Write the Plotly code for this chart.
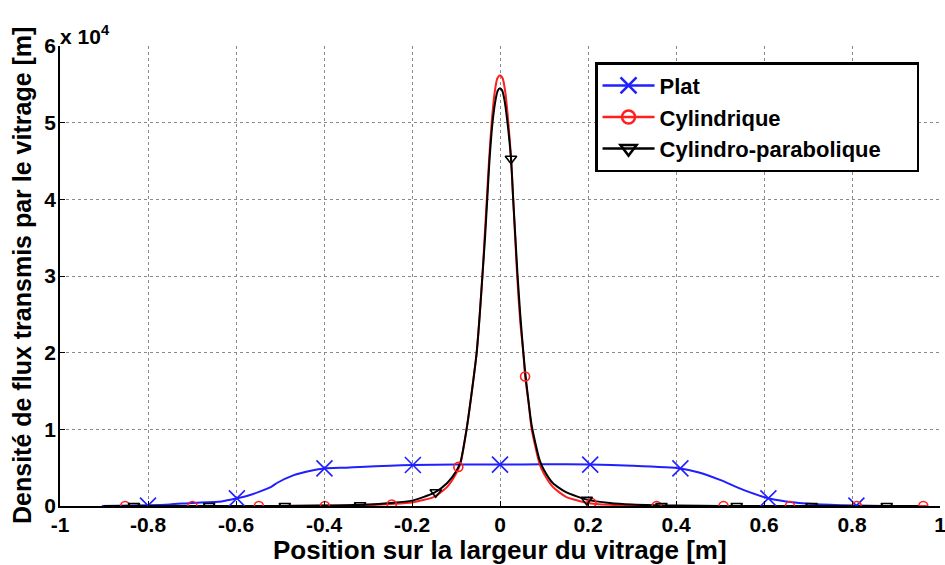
import plotly.graph_objects as go

# ---- data ----
plat_x = [-0.905, -0.8, -0.75, -0.70, -0.633, -0.598, -0.57, -0.545, -0.52, -0.507, -0.47, -0.43,
          -0.399, -0.35, -0.318, -0.25, -0.198, -0.1, 0.0, 0.1, 0.205, 0.3, 0.41, 0.45, 0.50,
          0.553, 0.61, 0.65, 0.68, 0.75, 0.81, 0.875]
plat_y = [0, 100, 200, 400, 600, 1000, 1400, 1900, 2500, 3000, 4000, 4600,
          4900, 5000, 5100, 5250, 5350, 5400, 5400, 5450, 5400, 5250, 4900, 4400, 3400,
          2100, 1000, 600, 400, 150, 50, 0]
plat_mx = [-0.8, -0.598, -0.399, -0.198, 0.0, 0.205, 0.41, 0.61, 0.81]
plat_my = [50, 1000, 4900, 5350, 5400, 5400, 4900, 1000, 50]

cyl_x = [-0.90, -0.5, -0.35, -0.30, -0.25, -0.20, -0.15, -0.12, -0.10, -0.09, -0.076, -0.065,
         -0.053, -0.046, -0.040, -0.035, -0.030, -0.025, -0.019, -0.012, -0.006, 0.0,
         0.006, 0.012, 0.019, 0.025, 0.030, 0.039, 0.046, 0.053, 0.057, 0.065, 0.072, 0.09,
         0.10, 0.12, 0.15, 0.20, 0.25, 0.30, 0.40, 0.97]
cyl_y = [0, 0, 50, 100, 250, 450, 1200, 2500, 4200, 5500, 10000, 14500,
         20000, 25000, 30000, 35000, 40000, 45000, 50000, 54000, 55800, 56200,
         55800, 54000, 50000, 45500, 40000, 30000, 24000, 20000, 16900, 13500, 10000, 5500,
         4200, 2500, 1200, 400, 150, 50, 0, 0]
cyl_mx = [-0.852, -0.699, -0.548, -0.398, -0.246, -0.0947, 0.057, 0.208, 0.356, 0.508,
          0.659, 0.811, 0.962]
cyl_my = [0, 0, 0, 0, 200, 5100, 16900, 400, 0, 0, 0, 0, 0]

para_x = [-0.90, -0.5, -0.40, -0.35, -0.30, -0.25, -0.20, -0.15, -0.12, -0.10, -0.09, -0.076,
          -0.065, -0.053, -0.046, -0.040, -0.034, -0.029, -0.024, -0.017, -0.010, -0.005, 0.0,
          0.005, 0.010, 0.017, 0.025, 0.030, 0.035, 0.040, 0.046, 0.053, 0.060, 0.072, 0.09,
          0.10, 0.12, 0.15, 0.20, 0.25, 0.30, 0.35, 0.40, 0.50, 0.95]
para_y = [0, 0, 50, 100, 200, 400, 700, 1700, 3000, 4500, 5700, 10000,
          14500, 20000, 25000, 30000, 35000, 40000, 45000, 50000, 53000, 54200, 54500,
          54200, 53000, 50000, 45300, 40000, 35000, 30000, 25000, 20000, 16000, 10500, 6000,
          4700, 3000, 1800, 800, 400, 200, 100, 50, 0, 0]
para_mx = [-0.832, -0.661, -0.489, -0.318, -0.146, 0.025, 0.197, 0.367, 0.538, 0.708, 0.879]
para_my = [0, 0, 0, 100, 1800, 45300, 800, 0, 0, 0, 0]

x_ticks = [-1, -0.8, -0.6, -0.4, -0.2, 0, 0.2, 0.4, 0.6, 0.8, 1]
x_tick_labels = ["-1", "-0.8", "-0.6", "-0.4", "-0.2", "0", "0.2", "0.4", "0.6", "0.8", "1"]
y_ticks = [0, 10000, 20000, 30000, 40000, 50000, 60000]
y_tick_labels = ["0", "1", "2", "3", "4", "5", "6"]

names = ["Plat", "Cylindrique", "Cylindro-parabolique"]
colors = ["#1f1fff", "#ff1f1f", "#000000"]
symbols = ["x-thin-open", "circle-open", "triangle-down-open"]
msizes = [16, 9, 10]

FONT = "Liberation Sans, Arial, Helvetica, sans-serif"

fig = go.Figure()
series = [(plat_x, plat_y, plat_mx, plat_my),
          (cyl_x, cyl_y, cyl_mx, cyl_my),
          (para_x, para_y, para_mx, para_my)]
for i, (lx, ly, mx, my) in enumerate(series):
    fig.add_trace(go.Scatter(x=lx, y=ly, mode="lines", showlegend=False,
                             line=dict(color=colors[i], width=2, shape="spline", smoothing=0.6),
                             hoverinfo="skip"))
for i, (lx, ly, mx, my) in enumerate(series):
    fig.add_trace(go.Scatter(x=mx, y=my, mode="markers", showlegend=False,
                             marker=dict(symbol=symbols[i], size=msizes[i], color=colors[i],
                                         line=dict(width=1.6, color=colors[i]))))
for i in range(3):
    fig.add_trace(go.Scatter(x=[None], y=[None], mode="lines+markers",
                             name=names[i] + "\u00a0\u00a0\u00a0\u00a0\u00a0",
                             line=dict(color=colors[i], width=2.5),
                             marker=dict(symbol=symbols[i], size=msizes[i] + 4, color=colors[i],
                                         line=dict(width=2.5, color=colors[i]))))

axis_common = dict(showline=True, linecolor="black", linewidth=1.5, mirror=False,
                   ticks="inside", ticklen=5, tickcolor="black", tickwidth=1,
                   showgrid=True, gridcolor="#8a8a8a", gridwidth=1, griddash="dot",
                   zeroline=False, automargin=False, ticklabeloverflow="allow",
                   tickfont=dict(family=FONT, size=21, color="black", weight="bold"))

fig.update_xaxes(range=[-1, 1], tickvals=x_ticks, ticktext=x_tick_labels,
                 ticklabelstandoff=-1, **axis_common)
fig.update_yaxes(range=[0, 60000], tickvals=y_ticks, ticktext=y_tick_labels,
                 ticklabelstandoff=-2, **axis_common)

fig.update_layout(
    width=945, height=565,
    margin=dict(l=60, r=5, t=46, b=59, autoexpand=False),
    paper_bgcolor="white", plot_bgcolor="white",
    font=dict(family=FONT, color="black"),
    legend=dict(x=0.608, y=0.965, xanchor="left", yanchor="top",
                bgcolor="white", bordercolor="black", borderwidth=2.5,
                font=dict(family=FONT, size=22, color="black", weight="bold"),
                itemwidth=52, tracegroupgap=0),
    annotations=[
        dict(text="x 10<sup>4</sup>", x=0, y=1, xref="paper", yref="paper",
             showarrow=False, xanchor="left", yanchor="bottom", xshift=-2, yshift=-4,
             font=dict(family=FONT, size=21, color="black", weight="bold")),
        dict(text="Position sur la largeur du vitrage [m]", x=0.5, y=0,
             xref="paper", yref="paper", yshift=-44, showarrow=False,
             xanchor="center", yanchor="middle",
             font=dict(family=FONT, size=26, color="black", weight="bold")),
        dict(text="Densité de flux transmis par le vitrage [m]", x=0, y=0.5,
             xref="paper", yref="paper", xshift=-38, showarrow=False, textangle=-90,
             xanchor="center", yanchor="middle",
             font=dict(family=FONT, size=25, color="black", weight="bold")),
    ],
)

fig.write_html("out.html", config={"displayModeBar": False},
               post_script="document.body.style.margin='0px';")
